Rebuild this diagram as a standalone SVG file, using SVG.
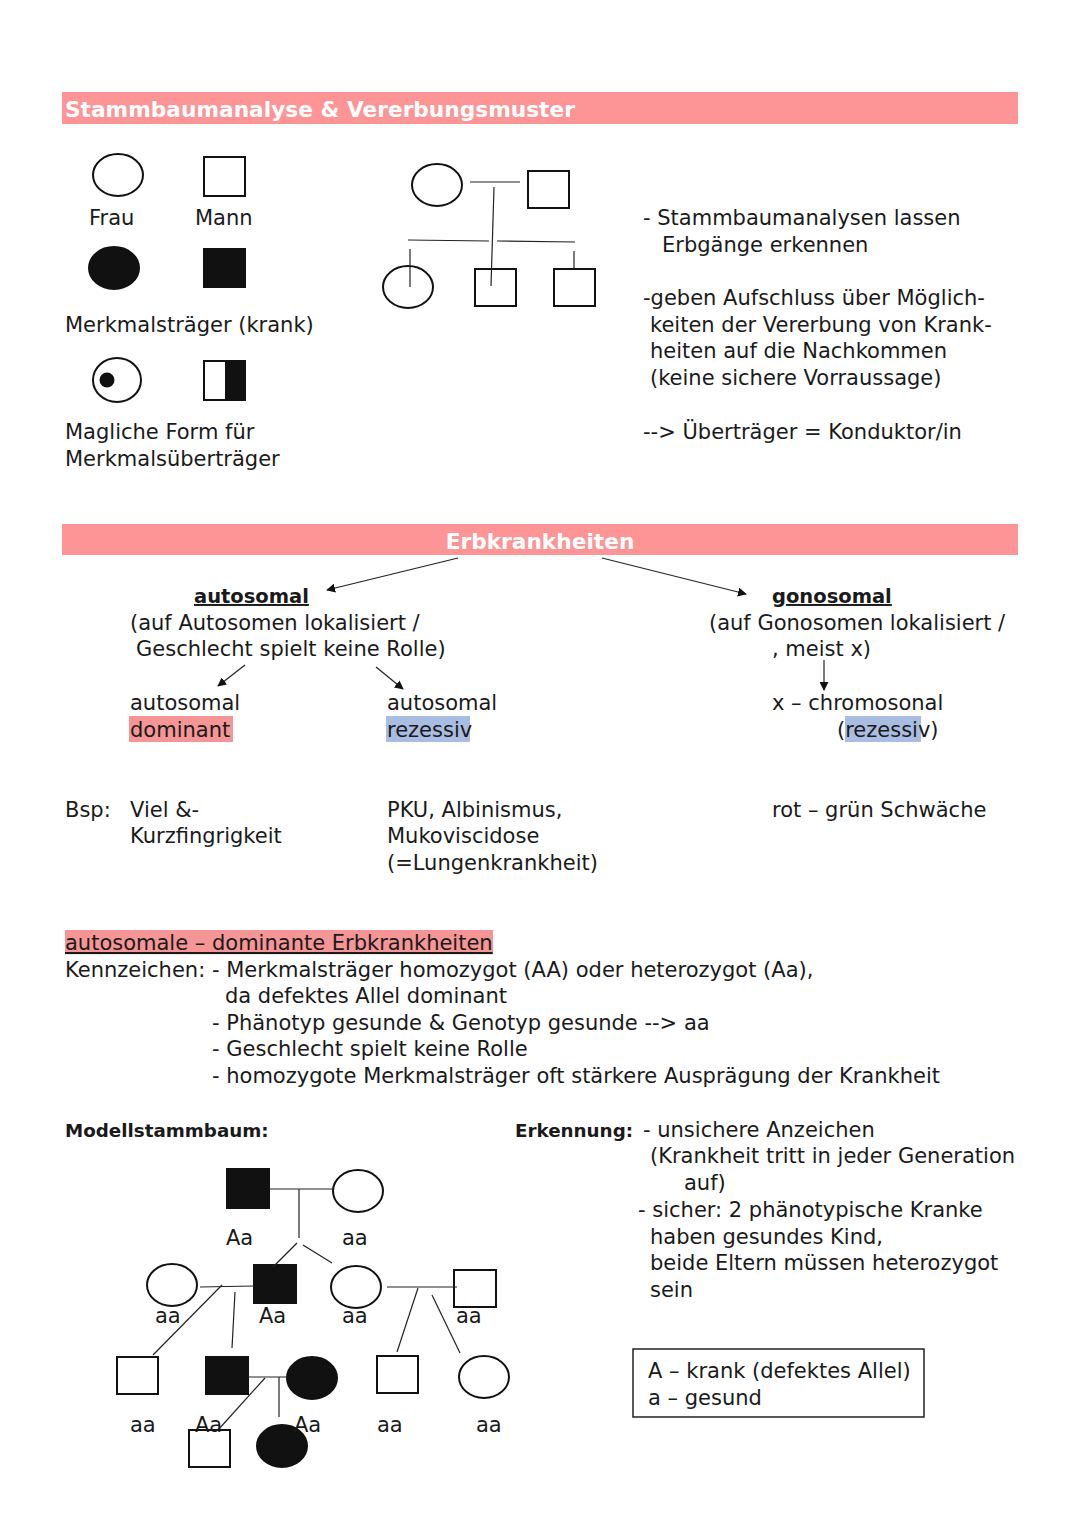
<svg xmlns="http://www.w3.org/2000/svg" width="1080" height="1528" viewBox="0 0 1080 1528">
<style>
text{font-family:"DejaVu Sans","Liberation Sans",sans-serif;font-size:21px;fill:#1a1a1a}
.h{fill:#fff;font-weight:bold;font-size:21.7px}
.b{font-weight:bold;font-size:19.5px}
.b2{font-weight:bold;font-size:18.3px}
.u{text-decoration:underline}
.s{fill:#fff;stroke:#111;stroke-width:2}
.f{fill:#111;stroke:#111;stroke-width:2}
.l{stroke:#222;stroke-width:1.2;fill:none}
.a{stroke:#222;stroke-width:1.2;fill:none;marker-end:url(#ah)}
</style>
<defs>
<marker id="ah" viewBox="0 0 10 10" refX="9" refY="5" markerWidth="9" markerHeight="9" markerUnits="userSpaceOnUse" orient="auto"><path d="M0,0 L10,5 L0,10 z" fill="#111"/></marker>
</defs>
<rect width="1080" height="1528" fill="#fff"/>

<g id="header1">
<rect x="62" y="92" width="956" height="32" fill="#fd9596"/>
<text class="h" x="65" y="117">Stammbaumanalyse &amp; Vererbungsmuster</text>
</g>

<g id="legend">
<ellipse class="s" cx="118" cy="175" rx="25" ry="21"/>
<rect class="s" x="204" y="157" width="41" height="39"/>
<text x="89" y="225">Frau</text>
<text x="195" y="225">Mann</text>
<ellipse class="f" cx="114" cy="268" rx="25" ry="21"/>
<rect class="f" x="204" y="249" width="41" height="38"/>
<text x="65" y="332">Merkmalsträger (krank)</text>
<ellipse class="s" cx="117" cy="380" rx="24" ry="22"/>
<circle cx="107" cy="380" r="7.5" fill="#111"/>
<rect class="s" x="204" y="361" width="41" height="39"/>
<rect x="225" y="361" width="20" height="39" fill="#111"/>
<text x="65" y="439">Magliche Form für</text>
<text x="65" y="466">Merkmalsüberträger</text>
</g>

<g id="sample-pedigree">
<ellipse class="s" cx="437" cy="185" rx="25" ry="21"/>
<rect class="s" x="528" y="171" width="41" height="37"/>
<ellipse class="s" cx="408" cy="287" rx="25" ry="21"/>
<rect class="s" x="475" y="269" width="41" height="37"/>
<rect class="s" x="554" y="269" width="41" height="37"/>
</g>

<g id="sample-text">
<text x="643" y="225">- Stammbaumanalysen lassen</text>
<text x="662" y="252">Erbgänge erkennen</text>
<text x="643" y="305">-geben Aufschluss über Möglich-</text>
<text x="650" y="332">keiten der Vererbung von Krank-</text>
<text x="650" y="358">heiten auf die Nachkommen</text>
<text x="650" y="385">(keine sichere Vorraussage)</text>
<text x="643" y="439">--&gt; Überträger = Konduktor/in</text>
</g>

<g id="header2">
<rect x="62" y="524" width="956" height="31" fill="#fd9596"/>
<text class="h" x="540" y="549" text-anchor="middle">Erbkrankheiten</text>
</g>

<g id="autosomal">
<text class="b u" x="194" y="603">autosomal </text>
<text x="130" y="630">(auf Autosomen lokalisiert /</text>
<text x="136" y="656">Geschlecht spielt keine Rolle)</text>
</g>
<g id="gonosomal">
<text class="b u" x="772" y="603">gonosomal</text>
<text x="709" y="630">(auf Gonosomen lokalisiert /</text>
<text x="772" y="656">, meist x)</text>
</g>
<g id="ad">
<rect x="129" y="716" width="104" height="26" fill="#f59595"/>
<text x="130" y="710">autosomal</text>
<text x="130" y="737">dominant</text>
</g>
<g id="ar">
<rect x="386" y="716" width="84" height="26" fill="#a9bde3"/>
<text x="387" y="710">autosomal</text>
<text x="387" y="737">rezessiv</text>
</g>
<g id="xr">
<rect x="845" y="716" width="76" height="26" fill="#a9bde3"/>
<text x="772" y="710">x – chromosonal</text>
<text x="837" y="737">(rezessiv)</text>
</g>

<g id="examples">
<text x="65" y="817">Bsp:</text>
<text x="130" y="817">Viel &amp;-</text>
<text x="130" y="843">Kurzfingrigkeit</text>
<text x="387" y="817">PKU, Albinismus,</text>
<text x="387" y="843">Mukoviscidose</text>
<text x="387" y="870">(=Lungenkrankheit)</text>
<text x="772" y="817">rot – grün Schwäche</text>
</g>

<g id="ad-section">
<rect x="65" y="930" width="428" height="24" fill="#f59595"/>
<text class="u" x="65" y="950">autosomale – dominante Erbkrankheiten</text>
<text x="65" y="977">Kennzeichen: - Merkmalsträger homozygot (AA) oder heterozygot (Aa),</text>
<text x="225" y="1003">da defektes Allel dominant</text>
<text x="212" y="1030">- Phänotyp gesunde &amp; Genotyp gesunde --&gt; aa</text>
<text x="212" y="1056">- Geschlecht spielt keine Rolle</text>
<text x="212" y="1083">- homozygote Merkmalsträger oft stärkere Ausprägung der Krankheit</text>
</g>

<g id="erkennung">
<text class="b2" x="65" y="1137">Modellstammbaum:</text>
<text class="b2" x="515" y="1137">Erkennung:</text>
<text x="643" y="1137">- unsichere Anzeichen</text>
<text x="650" y="1163">(Krankheit tritt in jeder Generation</text>
<text x="684" y="1190">auf)</text>
<text x="638" y="1217">- sicher: 2 phänotypische Kranke</text>
<text x="650" y="1244">haben gesundes Kind,</text>
<text x="650" y="1270">beide Eltern müssen heterozygot</text>
<text x="650" y="1297">sein</text>
</g>

<g id="key">
<rect x="633" y="1349" width="291" height="68" fill="#fff" stroke="#222" stroke-width="1.5"/>
<text x="648" y="1378">A – krank (defektes Allel)</text>
<text x="648" y="1405">a – gesund</text>
</g>

<g id="model-pedigree">
<rect class="f" x="227" y="1169" width="42" height="39"/>
<ellipse class="s" cx="358" cy="1191" rx="25" ry="21"/>
<ellipse class="s" cx="172" cy="1285" rx="25" ry="21"/>
<rect class="f" x="254" y="1265" width="42" height="38"/>
<ellipse class="s" cx="356" cy="1287" rx="25" ry="21"/>
<rect class="s" x="454" y="1270" width="42" height="37"/>
<rect class="s" x="117" y="1357" width="41" height="37"/>
<rect class="f" x="206" y="1357" width="42" height="37"/>
<ellipse class="f" cx="312" cy="1378" rx="25" ry="21"/>
<rect class="s" x="377" y="1356" width="41" height="37"/>
<ellipse class="s" cx="484" cy="1377" rx="25" ry="21"/>
<rect class="s" x="189" y="1430" width="41" height="37"/>
<ellipse class="f" cx="282" cy="1446" rx="25" ry="21"/>
<text x="226" y="1245">Aa</text>
<text x="342" y="1245">aa</text>
<text x="155" y="1323">aa</text>
<text x="259" y="1323">Aa</text>
<text x="342" y="1323">aa</text>
<text x="456" y="1323">aa</text>
<text x="130" y="1432">aa</text>
<text x="195" y="1432">Aa</text>
<text x="294" y="1432">Aa</text>
<text x="377" y="1432">aa</text>
<text x="476" y="1432">aa</text>
</g>

<g id="connectors">
<line class="l" x1="470" y1="182" x2="520" y2="182"/>
<line class="l" x1="494" y1="187" x2="491" y2="286"/>
<line class="l" x1="408" y1="240" x2="489" y2="241"/>
<line class="l" x1="497" y1="241" x2="575" y2="242"/>
<line class="l" x1="410" y1="249" x2="410" y2="287"/>
<line class="l" x1="574" y1="251" x2="574" y2="269"/>
<line class="a" x1="458" y1="558" x2="327" y2="590"/>
<line class="a" x1="602" y1="558" x2="746" y2="594"/>
<line class="a" x1="245" y1="665" x2="218" y2="686"/>
<line class="a" x1="376" y1="667" x2="403" y2="689"/>
<line class="a" x1="824" y1="660" x2="824" y2="690"/>
<line class="l" x1="270" y1="1189" x2="333" y2="1189"/>
<line class="l" x1="299" y1="1189" x2="299" y2="1238"/>
<line class="l" x1="297" y1="1243" x2="273" y2="1267"/>
<line class="l" x1="303" y1="1245" x2="332" y2="1263"/>
<line class="l" x1="200" y1="1287" x2="254" y2="1286"/>
<line class="l" x1="387" y1="1287" x2="457" y2="1287"/>
<line class="l" x1="222" y1="1285" x2="153" y2="1355"/>
<line class="l" x1="235" y1="1292" x2="232" y2="1348"/>
<line class="l" x1="418" y1="1288" x2="397" y2="1352"/>
<line class="l" x1="432" y1="1295" x2="460" y2="1353"/>
<line class="l" x1="248" y1="1377" x2="288" y2="1377"/>
<line class="l" x1="265" y1="1378" x2="218" y2="1430"/>
<line class="l" x1="279" y1="1377" x2="279" y2="1417"/>
</g>
</svg>
